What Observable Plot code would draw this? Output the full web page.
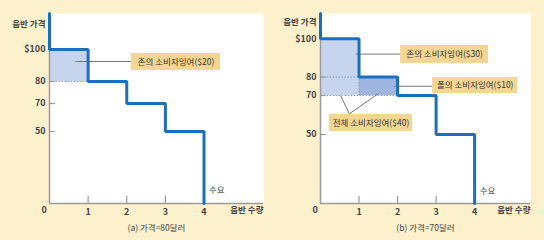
<!DOCTYPE html>
<html>
<head>
<meta charset="utf-8">
<script src="https://cdn.jsdelivr.net/npm/d3@7"></script>
<script src="https://cdn.jsdelivr.net/npm/@observablehq/plot@0.6"></script>
<style>
  html, body { margin: 0; padding: 0; background: #fdf0cc; }
  #wrap { display: flex; width: 544px; height: 240px; overflow: hidden; }
  svg { font-family: "Noto Sans CJK KR", "Noto Sans", sans-serif; }
</style>
</head>
<body>
<div id="wrap"></div>
<script>
// ---- data ----
const quantities = [1, 2, 3, 4];                 // x tick values
const unitPrices = [100, 80, 70, 50];           // willingness to pay for unit 1..4
const priceTicks = [50, 70, 80, 100];
const priceTickLabels = ["50", "70", "80", "$100"];
const yLabel = "음반 가격";
const xLabel = "음반 수량";
const demandLabel = "수요";
const captions = ["(a) 가격=80달러", "(b) 가격=70달러"];
const surplusA = [{x1: 0, x2: 1, y1: 80, y2: 100, kind: "jon"}];
const surplusB = [{x1: 0, x2: 1, y1: 70, y2: 100, kind: "jon"}, {x1: 1, x2: 2, y1: 70, y2: 80, kind: "paul"}];
const notesA = [{text: "존의 소비자잉여($20)", x1: 2.12, x2: 4.43, y1: 86.9, y2: 97.5}];
const notesB = [
  {text: "존의 소비자잉여($30)", x1: 2.08, x2: 4.36, y1: 87.1, y2: 96.5},
  {text: "폴의 소비자잉여($10)", x1: 2.91, x2: 5.12, y1: 71.1, y2: 79.7},
  {text: "전체 소비자잉여($40)", x1: 0.23, x2: 2.39, y1: 51.5, y2: 60.3}
];
const leadersA = [{x1: 0.67, y1: 92.5, x2: 2.12, y2: 92.5}];
const leadersB = [
  {x1: 0.91, y1: 92, x2: 2.08, y2: 92},
  {x1: 1.92, y1: 75, x2: 2.91, y2: 75},
  {x1: 0.52, y1: 70, x2: 0.75, y2: 60.6},
  {x1: 1.5, y1: 71, x2: 0.75, y2: 60.6}
];
const dottedA = [{x1: 0, y1: 80, x2: 1, y2: 80}];
const dottedB = [{x1: 0, y1: 80, x2: 1, y2: 80}, {x1: 0, y1: 70, x2: 2, y2: 70}, {x1: 1, y1: 70, x2: 1, y2: 80}];

// ---- helpers ----
function demandSteps(top) {
  const pts = [{q: 0, p: top}];
  unitPrices.forEach((p, i) => { pts.push({q: i, p}); pts.push({q: i + 1, p}); });
  pts.push({q: unitPrices.length, p: 0});
  return pts;
}

const BLUE = "#1b6fc2";
const AXIS = "#9a9a9a";
const TXT = "#444";

function panel(o) {
  const top = o.yDomain[o.yDomain.length - 1];
  const base = o.yRange[0];
  // the textbook drawing spaces the price levels unevenly: piecewise-linear transform
  const warp = d3.scaleLinear().domain(o.yDomain).range(o.yRange.map(v => base - v));
  const H = base - o.yRange[o.yRange.length - 1];
  return Plot.plot({
    width: 272, height: 240,
    marginLeft: o.ml, marginRight: o.mr, marginTop: 13, marginBottom: 240 - base,
    style: {background: "transparent", fontFamily: '"Noto Sans CJK KR", sans-serif'},
    x: {domain: [0, o.xMax], axis: null},
    y: {transform: warp, domain: [0, H], axis: null},
    marks: [
      Plot.frame({fill: "white", stroke: null}),
      Plot.rect(o.surplus, {x1: "x1", x2: "x2", y1: "y1", y2: "y2",
        fill: d => d.kind === "paul" ? "#9fb4df" : "#c7d4ee"}),
      Plot.link(o.dotted, {x1: "x1", y1: "y1", x2: "x2", y2: "y2",
        stroke: "#8e9dbd", strokeWidth: 1, strokeDasharray: "1.5,1.5"}),
      // axes
      Plot.ruleY([0], {stroke: AXIS, strokeWidth: 1.5}),
      Plot.ruleX([0], {stroke: AXIS, strokeWidth: 1.5}),
      Plot.ruleX(quantities, {x: d => d, y1: 0, y2: 5, stroke: AXIS, strokeWidth: 1.2}),
      Plot.ruleY(priceTicks, {y: d => d, x1: 0, x2: 0.15, stroke: AXIS, strokeWidth: 1.2}),
      Plot.text(priceTicks, {x: 0, y: d => d, text: (d, i) => priceTickLabels[i],
        textAnchor: "end", dx: -4, fontSize: 9, fill: TXT, fontWeight: "bold"}),
      Plot.text(quantities, {x: d => d, y: 0, text: d => String(d), dy: 9, fontSize: 9, fill: TXT, fontWeight: "bold"}),
      Plot.text(["0"], {frameAnchor: "bottom-left", text: d => d, dx: -8, dy: 9, fontSize: 9, fill: TXT, fontWeight: "bold"}),
      Plot.text([yLabel], {frameAnchor: "top-left", text: d => d, textAnchor: "end", dx: -4, dy: o.ylDy, fontSize: 8.5, fill: TXT, fontWeight: "bold"}),
      Plot.text([xLabel], {frameAnchor: "bottom-right", text: d => d, textAnchor: "end", dy: 9, fontSize: 8.5, fill: TXT, fontWeight: "bold"}),
      Plot.text([o.caption], {frameAnchor: "bottom", text: d => d, dy: 27, fontSize: 8.5, fill: TXT}),
      // leaders and notes
      Plot.link(o.leaders, {x1: "x1", y1: "y1", x2: "x2", y2: "y2", stroke: "#777", strokeWidth: 1}),
      Plot.rect(o.notes, {x1: "x1", x2: "x2", y1: "y1", y2: "y2", fill: "#f3d693"}),
      Plot.text(o.notes, {x: d => (d.x1 + d.x2) / 2, y: d => (d.y1 + d.y2) / 2, text: "text",
        fontSize: 8.5, fill: "#333"}),
      // demand curve
      Plot.line(demandSteps(top), {x: "q", y: "p", stroke: BLUE, strokeWidth: 3, strokeLinejoin: "miter"}),
      Plot.text([demandLabel], {x: unitPrices.length, y: 9, text: d => d, textAnchor: "start", dx: 5, fontSize: 8.5, fill: TXT})
    ]
  });
}

const wrap = document.getElementById("wrap");
wrap.appendChild(panel({
  ml: 49, mr: 9, xMax: 5.54,
  yDomain: [0, 50, 70, 80, 100, 125], yRange: [203, 131, 103, 81, 49, 13],
  surplus: surplusA, notes: notesA, leaders: leadersA, dotted: dottedA,
  caption: captions[0], ylDy: 7
}));
wrap.appendChild(panel({
  ml: 48, mr: 14, xMax: 5.45,
  yDomain: [0, 50, 70, 80, 100, 113], yRange: [203, 134, 95, 76.5, 38.3, 13],
  surplus: surplusB, notes: notesB, leaders: leadersB, dotted: dottedB,
  caption: captions[1], ylDy: 5
}));
</script>
</body>
</html>
